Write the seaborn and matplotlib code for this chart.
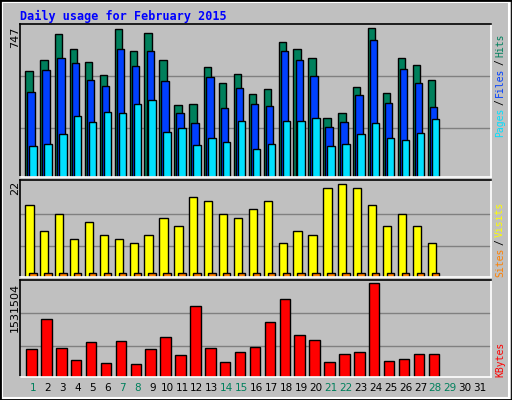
import matplotlib
matplotlib.use("Agg")
import matplotlib.pyplot as plt
import seaborn as sns
import numpy as np
from matplotlib.patches import Rectangle

days = list(range(1, 29))
hits = [532,588,720,644,578,512,745,634,725,588,364,369,552,471,517,415,440,679,644,598,298,324,451,747,420,598,562,486]
files = [425,537,598,573,486,456,644,557,634,481,324,273,501,349,446,369,359,634,588,507,252,278,410,689,374,542,471,354]
pages = [156,166,217,308,278,329,324,369,385,227,247,161,197,176,283,141,166,283,283,298,156,166,217,273,197,186,222,293]
visits = [17,11,15,9,13,10,9,8,10,14,12,19,18,15,14,16,18,8,11,10,21,22,21,17,12,15,12,8]
sites = [1]*28
kbytes = [456690,941000,473000,273000,574000,223000,590000,206000,457000,657000,356000,1158000,473000,239000,407000,490000,891000,1275000,691000,607000,239000,373000,407000,1531504,256000,290000,373000,373000]
day_labels = [str(d) for d in range(1, 32)]
weekend = {1,7,8,14,15,21,22,28,29}

BG = "#C0C0C0"
fig = plt.figure(figsize=(5.12, 4.0), dpi=100, facecolor=BG)
fig.patches.append(Rectangle((0.004, 0.006), 0.99, 0.99, transform=fig.transFigure, fill=False, edgecolor="white", lw=1.5))
fig.patches.append(Rectangle((0, 0), 1, 1, transform=fig.transFigure, fill=False, edgecolor="black", lw=2))

L, W = 20/512, 471/512
ax1 = fig.add_axes([L, 1-177/400, W, 153/400])
ax2 = fig.add_axes([L, 1-277/400, W, 97/400])
ax3 = fig.add_axes([L, 1-377/400, W, 97/400])
XL = (0.128, 31.74)
mono = "DejaVu Sans Mono"

def bars(ax, xs, ys, color, width):
    sns.barplot(x=xs, y=ys, native_scale=True, width=width, color=color,
                edgecolor="black", linewidth=1, ax=ax, saturation=1)

def style(ax, top):
    ax.set_facecolor(BG)
    ax.set_xlim(*XL)
    ax.set_ylim(0, top)
    ax.set_xticks([]); ax.set_yticks([])
    ax.set_xlabel(""); ax.set_ylabel("")
    for s in ["left", "top"]:
        ax.spines[s].set_color("black")
    for s in ["right", "bottom"]:
        ax.spines[s].set_color("white")
    for sp in ax.spines.values():
        sp.set_linewidth(1.2)

d = np.array(days, dtype=float)
for ax, mx in [(ax1, 747), (ax2, 22), (ax3, 1531504)]:
    ax.axhline(mx*0.33, color="#808080", lw=1, zorder=0)
    ax.axhline(mx*0.68, color="#808080", lw=1, zorder=0)

bars(ax1, d-0.27, hits, "#00805C", 0.5)
bars(ax1, d-0.13, files, "#0040FF", 0.5)
bars(ax1, d, pages, "#00E0FF", 0.5)
style(ax1, 769)
bars(ax2, d-0.24, visits, "#FFFF00", 0.56)
bars(ax2, d, sites, "#FF8000", 0.5)
style(ax2, 22.96)
bars(ax3, d-0.1, kbytes, "#FF0000", 0.7)
style(ax3, 1.58e6)

fig.text(20/512, 1-16/400, "Daily usage for February 2015", color="#0000FF",
         fontsize=8.5, fontweight="bold", family=mono, va="center", ha="left")

def ltext(y_px, s):
    fig.text(15/512, 1-y_px/400, s, rotation=90, fontsize=8, family="DejaVu Sans",
             ha="center", va="top", color="black")
ltext(27, "747"); ltext(181, "22"); ltext(283, "1531504")

def rtext(y_bottom_px, s, c):
    fig.text(500/512, 1-y_bottom_px/400, s, rotation=90, fontsize=7, family=mono,
             ha="center", va="bottom", color=c)
rtext(137, "Pages", "#00E0FF"); rtext(105, "/", "#000000")
rtext(97, "Files", "#0040FF"); rtext(65, "/", "#000000")
rtext(57, "Hits", "#00805C")
rtext(277, "Sites", "#FF8000"); rtext(245, "/", "#000000")
rtext(237, "Visits", "#FFFF00")
rtext(377, "KBytes", "#FF0000")

for i, lab in enumerate(day_labels):
    dd = i + 1
    xf = L + W*(dd - XL[0])/(XL[1]-XL[0])
    fig.text(xf, 1-388/400, lab, fontsize=7.5, family="DejaVu Sans", ha="center", va="center",
             color="#00805C" if dd in weekend else "black")

fig.savefig("out.png", dpi=100, facecolor=BG)
